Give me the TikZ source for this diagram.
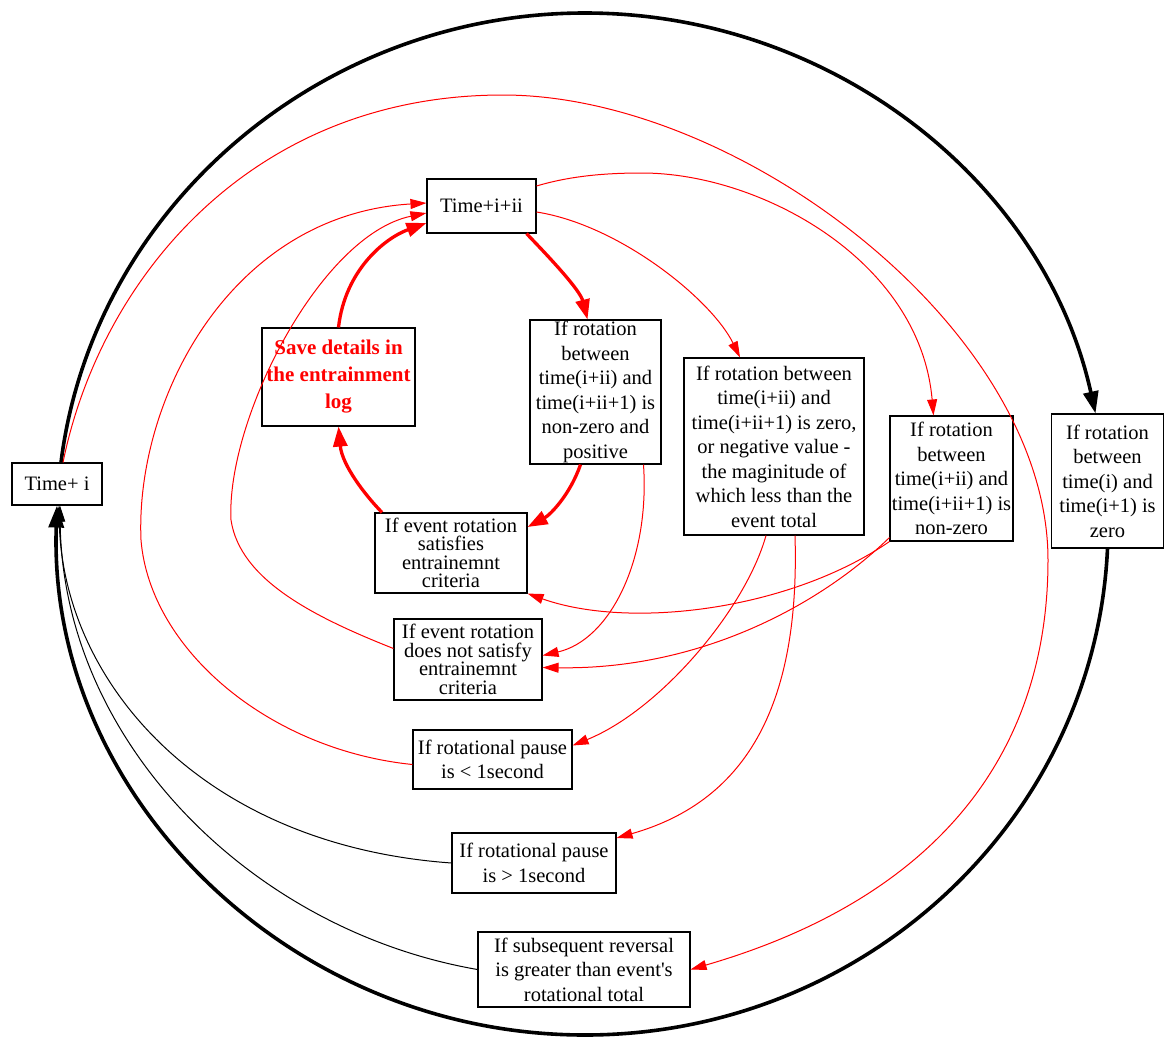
\documentclass[tikz,border=0pt]{standalone}
\usepackage{fontspec}
\setmainfont{Liberation Serif}[Ligatures=TeXOff]
\usetikzlibrary{arrows.meta}
\tikzset{
  box/.style={draw=black, line width=1.1pt, fill=white, align=center, inner sep=1pt,
    font=\fontsize{20.5}{24.5}\selectfont},
  tight/.style={font=\fontsize{20.5}{18.5}\selectfont},
  thinred/.style={draw=red, line width=1pt, -{Triangle[length=16pt,width=10pt]}},
  thickred/.style={draw=red, line width=3.3pt, -{Triangle[length=20pt,width=14pt]}},
  thinblack/.style={draw=black, line width=1pt, -{Triangle[length=16pt,width=10pt]}},
  thickblack/.style={draw=black, line width=3.6pt, -{Triangle[length=22pt,width=15pt]}}
}
\begin{document}
\begin{tikzpicture}[x=1pt,y=-1pt]
\useasboundingbox (0,0) rectangle (1165,1039);
\fill[white] (0,0) rectangle (1165,1039);

% nodes
\node[box, minimum width=90pt, minimum height=42pt] (ti) at (57,484) {Time+ i};
\node[box, minimum width=109pt, minimum height=54pt] (tii) at (481.5,206) {Time+i+ii};
\node[box, minimum width=153pt, minimum height=98pt, text=red, font=\fontsize{21}{27}\selectfont\bfseries] (save) at (338.5,377) {Save details in\\the entrainment\\log};
\node[box, minimum width=131pt, minimum height=144pt] (P) at (595.5,392) {If rotation\\between\\time(i+ii) and\\time(i+ii+1) is\\non-zero and\\positive};
\node[box, minimum width=180pt, minimum height=177pt] (Z) at (774,446.5) {If rotation between\\time(i+ii) and\\time(i+ii+1) is zero,\\or negative value -\\the maginitude of\\which less than the\\event total};
\node[box, minimum width=123pt, minimum height=125pt] (N) at (951.5,478.5) {If rotation\\between\\time(i+ii) and\\time(i+ii+1) is\\non-zero};
\node[box, minimum width=112pt, minimum height=134pt] (R) at (1107.5,481) {If rotation\\between\\time(i) and\\time(i+1) is\\zero};
\node[box, tight, minimum width=152pt, minimum height=80pt] (S) at (451,553) {If event rotation\\satisfies\\entrainemnt\\criteria};
\node[box, tight, minimum width=148pt, minimum height=81pt] (D) at (468,659.5) {If event rotation\\does not satisfy\\entrainemnt\\criteria};
\node[box, minimum width=159pt, minimum height=59pt] (L) at (492.5,759.5) {If rotational pause\\is < 1second};
\node[box, minimum width=164pt, minimum height=60pt] (G) at (534,863) {If rotational pause\\is > 1second};
\node[box, minimum width=212pt, minimum height=75pt] (SR) at (584,969.5) {If subsequent reversal\\is greater than event's\\rotational total};

% outer black loop
\draw[thickblack] ([xshift=4pt]ti.north) .. controls (93,207) and (321,13) .. (585,13)
  .. controls (830,13) and (1044,180) .. ([xshift=-12pt]R.north);
\draw[thickblack] (R.south) .. controls (1095,820) and (864,1035) .. (585,1035)
  .. controls (289,1035) and (47,794) .. (ti.south);

% thin black into Time+ i
\draw[thinblack] (G.west) .. controls (200,845) and (62,680) .. ([xshift=2pt]ti.south);
\draw[thinblack] (SR.west) .. controls (250,930) and (62,740) .. ([xshift=3pt]ti.south);

% thick red cycle
\draw[thickred] ([xshift=45pt]tii.south) .. controls (550,258) and (580,290) .. ([xshift=-8pt]P.north);
\draw[thickred] ([xshift=-15pt]P.south) .. controls (570,495) and (550,515) .. ([yshift=26pt]S.east);
\draw[thickred] ([xshift=-69pt]S.north) .. controls (365,495) and (342,465) .. (save.south);
\draw[thickred] (save.north) .. controls (345,270) and (385,238) .. ([yshift=-17pt]tii.west);

% thin red
\draw[thinred] ([yshift=20pt]tii.east) .. controls (570,176) and (605,173) .. (642,173)
  .. controls (760,173) and (920,260) .. ([xshift=-18pt]N.north);
\draw[thinred] ([yshift=-6pt]tii.east) .. controls (620,225) and (712,300) .. ([xshift=-34pt]Z.north);
\draw[thinred] ([xshift=6pt]ti.north) .. controls (100,280) and (250,95) .. (503,95)
  .. controls (740,95) and (1048,330) .. (1048,560)
  .. controls (1048,760) and (930,900) .. (SR.east);
\draw[thinred] ([yshift=11pt]D.west) .. controls (314,617) and (240,580) .. (231,520)
  .. controls (226,420) and (320,235) .. ([yshift=-7pt]tii.west);
\draw[thinred] ([yshift=-5pt]L.west) .. controls (270,750) and (150,650) .. (141,540)
  .. controls (135,400) and (230,215) .. ([yshift=3pt]tii.west);
\draw[thinred] ([xshift=48pt]P.south) .. controls (650,560) and (610,640) .. ([yshift=4pt]D.east);
\draw[thinred] (N.south west) .. controls (790,610) and (630,630) .. (S.south east);
\draw[thinred] ([yshift=4pt]N.south west) .. controls (820,605) and (700,670) .. ([yshift=-8pt]D.east);
\draw[thinred] ([xshift=-8pt]Z.south) .. controls (745,610) and (660,710) .. ([yshift=14pt]L.east);
\draw[thinred] ([xshift=21pt]Z.south) .. controls (800,700) and (750,800) .. ([yshift=25pt]G.east);
\end{tikzpicture}
\end{document}
